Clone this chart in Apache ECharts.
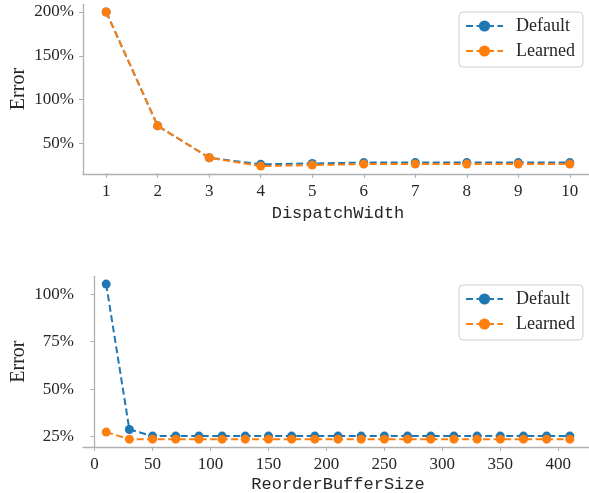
<!DOCTYPE html>
<html>
<head>
<meta charset="utf-8">
<script src="https://cdn.jsdelivr.net/npm/echarts@6/dist/echarts.min.js"></script>
<style>
html,body{margin:0;padding:0;background:#fff;}
#chart{width:589px;height:493px;}
</style>
</head>
<body>
<div id="chart"></div>
<script>
// ---- data ----
const dispatchWidth = [1, 2, 3, 4, 5, 6, 7, 8, 9, 10];
const dispatchDefault = [200, 70, 33.5, 26, 27, 28, 28, 28, 28, 28];
const dispatchLearned = [200, 70, 33.5, 24, 25.2, 26.3, 26.3, 26.3, 26.3, 26.3];

const robSize = [10, 30, 50, 70, 90, 110, 130, 150, 170, 190, 210, 230, 250, 270, 290, 310, 330, 350, 370, 390, 410];
const robDefault = [105.4, 28.7, 25.2, 25.2, 25.2, 25.2, 25.2, 25.2, 25.2, 25.2, 25.2, 25.2, 25.2, 25.2, 25.2, 25.2, 25.2, 25.2, 25.2, 25.2, 25.2];
const robLearned = [27.3, 23.6, 23.6, 23.6, 23.6, 23.6, 23.6, 23.6, 23.6, 23.6, 23.6, 23.6, 23.6, 23.6, 23.6, 23.6, 23.6, 23.6, 23.6, 23.6, 23.6];

const topXTicks = [1, 2, 3, 4, 5, 6, 7, 8, 9, 10];
const topYTicks = [50, 100, 150, 200];
const botXTicks = [0, 50, 100, 150, 200, 250, 300, 350, 400];
const botYTicks = [25, 50, 75, 100];

const seriesNames = ['Default', 'Learned'];
const xNames = ['DispatchWidth', 'ReorderBufferSize'];
const yName = 'Error';

// ---- style ----
const BLUE = '#1f77b4', ORANGE = '#ff7f0e';
const SPINE = '#b0b0b0';
const TXT = '#262626';
const SERIF = '"Liberation Serif", "DejaVu Serif", serif';
const MONO = '"Liberation Mono", "DejaVu Sans Mono", monospace';

function zip(xs, ys) { return xs.map((x, i) => [x, ys[i]]); }

function xAxis(gridIndex, min, max, ticks, name, gap) {
  return {
    type: 'value', gridIndex, min, max,
    name, nameLocation: 'middle', nameGap: gap, nameMoveOverlap: false,
    nameTextStyle: { fontFamily: MONO, fontSize: 17, color: TXT },
    axisLine: { show: true, lineStyle: { color: SPINE, width: 1.3 } },
    axisTick: { show: true, inside: false, length: 4, customValues: ticks, lineStyle: { color: SPINE, width: 1.1 } },
    axisLabel: { customValues: ticks, margin: 9, fontFamily: SERIF, fontSize: 17, color: TXT },
    splitLine: { show: false }
  };
}
function yAxis(gridIndex, min, max, ticks) {
  return {
    type: 'value', gridIndex, min, max,
    name: yName, nameLocation: 'middle', nameGap: 54, nameRotate: 90, nameMoveOverlap: false,
    nameTextStyle: { fontFamily: SERIF, fontSize: 20, color: TXT },
    axisLine: { show: true, lineStyle: { color: SPINE, width: 1.3 } },
    axisTick: { show: true, inside: false, length: 4, customValues: ticks, lineStyle: { color: SPINE, width: 1.1 } },
    axisLabel: { customValues: ticks, margin: 9, fontFamily: SERIF, fontSize: 17, color: TXT, formatter: v => v + '%' },
    splitLine: { show: false }
  };
}
function line(name, color, xi, data) {
  return {
    name, type: 'line', xAxisIndex: xi, yAxisIndex: xi, data,
    symbol: 'circle', symbolSize: 9, showSymbol: true,
    lineStyle: { color, width: 2, type: [7, 3.5] },
    itemStyle: { color },
    emphasis: { disabled: true },
    animation: false, z: name === 'Learned' ? 3 : 2
  };
}
function legend(top) {
  return {
    orient: 'vertical', left: 459, top,
    padding: [5, 8, 7, 6], itemGap: 7, itemWidth: 37, itemHeight: 14,
    borderColor: '#d0d0d0', borderWidth: 1, borderRadius: 4, backgroundColor: 'rgba(255,255,255,0.8)',
    textStyle: { fontFamily: SERIF, fontSize: 18, color: TXT, lineHeight: 18, padding: [0, 0, 0, 8] },
    data: seriesNames.map(n => ({ name: n }))
  };
}

const chart = echarts.init(document.getElementById('chart'), null, { renderer: 'canvas' });
chart.setOption({
  animation: false,
  backgroundColor: '#fff',
  grid: [
    { left: 83, top: 4.3, width: 510, height: 169.5, outerBoundsMode: 'none', containLabel: false },
    { left: 83, top: 276.3, width: 510, height: 170.6, outerBoundsMode: 'none', containLabel: false }
  ],
  xAxis: [
    xAxis(0, 0.55, 10.45, topXTicks, xNames[0], 31),
    xAxis(1, -10, 430, botXTicks, xNames[1], 29)
  ],
  yAxis: [
    yAxis(0, 15.2, 208.8, topYTicks),
    yAxis(1, 19.5, 109.5, botYTicks)
  ],
  legend: [
    Object.assign(legend(12), { id: 'l0' }),
    Object.assign(legend(285), { id: 'l1' })
  ],
  series: [
    line(seriesNames[0], BLUE, 0, zip(dispatchWidth, dispatchDefault)),
    line(seriesNames[1], ORANGE, 0, zip(dispatchWidth, dispatchLearned)),
    line(seriesNames[0], BLUE, 1, zip(robSize, robDefault)),
    line(seriesNames[1], ORANGE, 1, zip(robSize, robLearned))
  ]
});
</script>
</body>
</html>
